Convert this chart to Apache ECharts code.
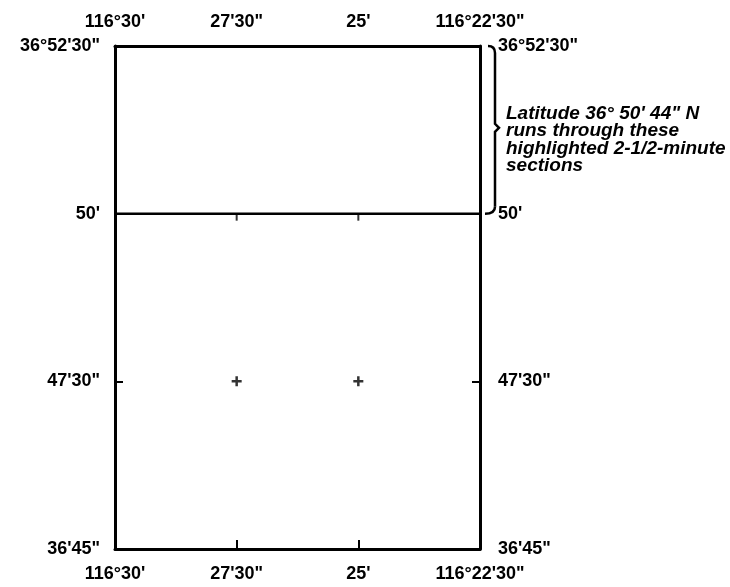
<!DOCTYPE html>
<html>
<head>
<meta charset="utf-8">
<script src="https://cdn.jsdelivr.net/npm/echarts@6/dist/echarts.min.js"></script>
<style>
  html, body { margin: 0; padding: 0; background: #fff; }
  #chart { width: 730px; height: 587px; }
</style>
</head>
<body>
<div id="chart"></div>
<script>
// longitude minutes past 116°, left to right (west to east)
const lonTicks = [30, 27.5, 25, 22.5]
const lonLabels = ["116°30'", "27'30\"", "25'", "116°22'30\""]

// latitude minutes past 36°, bottom to top
const latTicks = [45, 47.5, 50, 52.5]
const latLabels = ["36'45\"", "47'30\"", "50'", "36°52'30\""]

// section boundary that the latitude line falls into
const highlightLat = 50
const highlightTop = 52.5
const highlightNote = 'Latitude 36° 50\' 44" N\nruns through these\nhighlighted 2-1/2-minute\nsections'

// inner grid intersections
const crossPoints = [[27.5, 47.5], [25, 47.5]]
const boundaryTicks = [[27.5, 50], [25, 50]]

const FONT = '"Liberation Sans", Arial, Helvetica, sans-serif'

const pick = (ticks, labels) => (v) => {
  const i = ticks.findIndex(t => Math.abs(t - v) < 1e-6)
  return i >= 0 ? labels[i] : ''
}

const lineStyle = { color: '#000', width: 3 }
const labelStyle = { color: '#000', fontSize: 18, fontWeight: 'bold', fontFamily: FONT }

const xBase = {
  type: 'value',
  min: 22.5,
  max: 30,
  interval: 2.5,
  inverse: true,
  splitLine: { show: false },
  axisLine: { show: true, lineStyle: lineStyle }
}
const yBase = {
  type: 'value',
  min: 45,
  max: 52.5,
  interval: 2.5,
  splitLine: { show: false },
  axisLine: { show: true, lineStyle: lineStyle }
}

const chart = echarts.init(document.getElementById('chart'))

chart.setOption({
  animation: false,
  backgroundColor: '#fff',
  grid: { left: 115, right: 250, top: 46, bottom: 38 },
  xAxis: [
    Object.assign({}, xBase, {
      position: 'top',
      axisTick: { show: false },
      axisLabel: Object.assign({}, labelStyle, { margin: 15, formatter: pick(lonTicks, lonLabels) })
    }),
    Object.assign({}, xBase, {
      position: 'bottom',
      axisTick: { show: true, inside: true, length: 9, lineStyle: { color: '#000', width: 2 } },
      axisLabel: Object.assign({}, labelStyle, { margin: 16, formatter: pick(lonTicks, lonLabels) })
    })
  ],
  yAxis: [
    Object.assign({}, yBase, {
      position: 'left',
      axisTick: { show: true, inside: true, length: 8, lineStyle: { color: '#000', width: 2 } },
      axisLabel: Object.assign({}, labelStyle, { margin: 15, formatter: pick(latTicks, latLabels) })
    }),
    Object.assign({}, yBase, {
      position: 'right',
      axisTick: { show: true, inside: true, length: 8, lineStyle: { color: '#000', width: 2 } },
      axisLabel: Object.assign({}, labelStyle, { margin: 18, formatter: pick(latTicks, latLabels) })
    })
  ],
  series: [
    {
      name: 'boundary',
      type: 'line',
      xAxisIndex: 1,
      yAxisIndex: 0,
      symbol: 'none',
      lineStyle: { color: '#000', width: 2.5 },
      data: [[lonTicks[0], highlightLat], [lonTicks[lonTicks.length - 1], highlightLat]]
    },
    {
      name: 'boundary ticks',
      type: 'scatter',
      xAxisIndex: 1,
      yAxisIndex: 0,
      symbol: 'path://M0,0H2V6H0Z',
      symbolSize: [2, 6],
      symbolOffset: [0, 4],
      itemStyle: { color: '#000' },
      data: boundaryTicks
    },
    {
      name: 'crosses',
      type: 'scatter',
      xAxisIndex: 1,
      yAxisIndex: 0,
      symbol: 'path://M3.75,0H6.25V3.75H10V6.25H6.25V10H3.75V6.25H0V3.75H3.75Z',
      symbolSize: 10,
      itemStyle: { color: '#000' },
      data: crossPoints
    }
  ]
})

// brace + note, placed from the axis scales
const [bx, yTop] = chart.convertToPixel({ xAxisIndex: 1, yAxisIndex: 0 }, [lonTicks[lonTicks.length - 1], highlightTop])
const yBot = chart.convertToPixel({ yAxisIndex: 0 }, highlightLat)
const yMid = (yTop + yBot) / 2 - 2
const x0 = bx + 8
const x1 = bx + 15
const x2 = bx + 19
const braceStyle = { fill: null, stroke: '#000', lineWidth: 2.5 }

chart.setOption({
  graphic: [
    {
      type: 'bezierCurve',
      shape: { x1: x0, y1: yTop, x2: x1, y2: yTop + 7, cpx1: x1, cpy1: yTop },
      style: braceStyle
    },
    {
      type: 'polyline',
      shape: { points: [[x1, yTop + 7], [x1, yMid - 4], [x2, yMid], [x1, yMid + 4], [x1, yBot - 7]] },
      style: braceStyle
    },
    {
      type: 'bezierCurve',
      shape: { x1: x1, y1: yBot - 7, x2: x0 - 3, y2: yBot, cpx1: x1, cpy1: yBot },
      style: braceStyle
    },
    {
      type: 'text',
      x: x2 + 7,
      y: yMid - 23,
      style: {
        text: highlightNote,
        fill: '#000',
        font: 'italic bold 19px ' + FONT,
        lineHeight: 17.5,
        verticalAlign: 'top'
      }
    }
  ]
})
</script>
</body>
</html>
